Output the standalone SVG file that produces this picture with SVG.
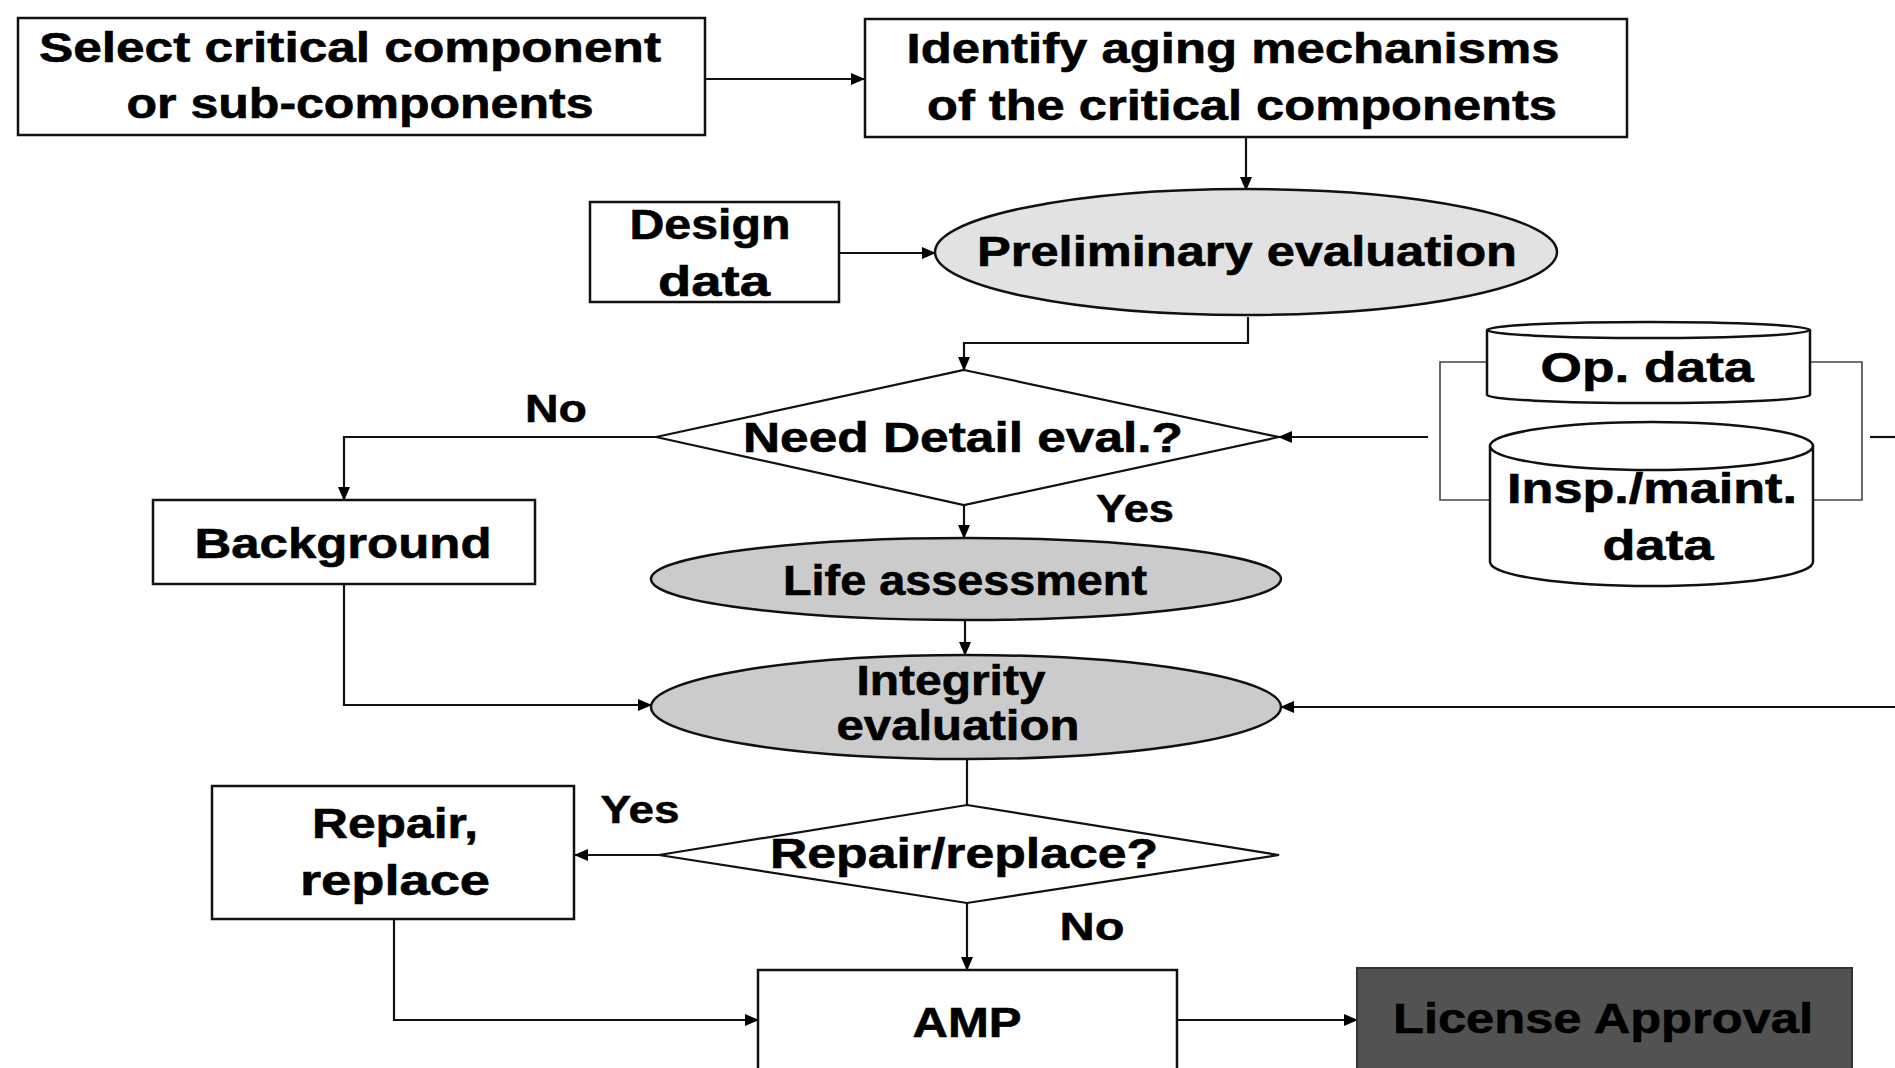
<svg xmlns="http://www.w3.org/2000/svg" width="1895" height="1068" viewBox="0 0 1895 1068">
<defs>
<marker id="arr" markerWidth="14" markerHeight="12" refX="13" refY="6" orient="auto" markerUnits="userSpaceOnUse">
<path d="M0,0 L14,6 L0,12 Z" fill="#000"/>
</marker>
<style>
.box{fill:#fff;stroke:#111;stroke-width:2.5}
.ell{stroke:#111;stroke-width:2.5}
.light{fill:#e2e2e2}
.mid{fill:#cbcbcb}
.dark{fill:#525252;stroke:#333;stroke-width:2}
.dia{fill:#fff;stroke:#111;stroke-width:2.2}
.cyl{fill:#fff;stroke:#111;stroke-width:2.5}
.con{fill:none;stroke:#111;stroke-width:2.2}
.br{fill:none;stroke:#444;stroke-width:1.6}
.t{font-family:"Liberation Sans",Arial,sans-serif;font-weight:bold;font-size:42px;fill:#000;stroke:#000;stroke-width:0.6;text-anchor:middle}
.lbl{font-family:"Liberation Sans",Arial,sans-serif;font-weight:bold;font-size:39px;fill:#000;stroke:#000;stroke-width:0.5;text-anchor:middle}
</style>
</defs>
<rect width="1895" height="1068" fill="#fff"/>

<g id="connectors">
<path class="con" d="M705,79 H864" marker-end="url(#arr)"/>
<path class="con" d="M1246,137 V190" marker-end="url(#arr)"/>
<path class="con" d="M839,253 H935" marker-end="url(#arr)"/>
<path class="con" d="M1248,317 V343 H964 V370" marker-end="url(#arr)"/>
<path class="con" d="M656,437 H344 V500" marker-end="url(#arr)"/>
<path class="con" d="M964,505 V538" marker-end="url(#arr)"/>
<path class="con" d="M965,620 V655" marker-end="url(#arr)"/>
<path class="con" d="M344,584 V705 H651" marker-end="url(#arr)"/>
<path class="con" d="M1428,437 H1279" marker-end="url(#arr)"/>
<path class="con" d="M1870,437 H1895"/>
<path class="con" d="M1895,707 H1281" marker-end="url(#arr)"/>
<path class="con" d="M967,758 V805"/>
<path class="con" d="M659,855 H575" marker-end="url(#arr)"/>
<path class="con" d="M967,903 V970" marker-end="url(#arr)"/>
<path class="con" d="M394,919 V1020 H758" marker-end="url(#arr)"/>
<path class="con" d="M1177,1020 H1357" marker-end="url(#arr)"/>
<path class="br" d="M1487,362 H1440 V500 H1490"/>
<path class="br" d="M1810,362 H1862 V500 H1813"/>
</g>

<g id="select">
<rect class="box" x="18" y="18" width="687" height="117"/>
<text class="t" x="350" y="62" textLength="622" lengthAdjust="spacingAndGlyphs">Select critical component</text>
<text class="t" x="360" y="118" textLength="467" lengthAdjust="spacingAndGlyphs">or sub-components</text>
</g>

<g id="identify">
<rect class="box" x="865" y="19" width="762" height="118"/>
<text class="t" x="1233" y="63" textLength="653" lengthAdjust="spacingAndGlyphs">Identify aging mechanisms</text>
<text class="t" x="1242" y="120" textLength="630" lengthAdjust="spacingAndGlyphs">of the critical components</text>
</g>

<g id="design">
<rect class="box" x="590" y="202" width="249" height="100"/>
<text class="t" x="710" y="239" textLength="161" lengthAdjust="spacingAndGlyphs">Design</text>
<text class="t" x="714" y="296" textLength="112" lengthAdjust="spacingAndGlyphs">data</text>
</g>

<g id="preliminary">
<ellipse class="ell light" cx="1246" cy="252" rx="311" ry="63"/>
<text class="t" x="1247" y="266" textLength="540" lengthAdjust="spacingAndGlyphs">Preliminary evaluation</text>
</g>

<g id="need-detail">
<polygon class="dia" points="964,370 1279,437 964,505 656,437"/>
<text class="t" x="963" y="452" textLength="440" lengthAdjust="spacingAndGlyphs">Need Detail eval.?</text>
<text class="lbl" x="556" y="422" textLength="62" lengthAdjust="spacingAndGlyphs">No</text>
<text class="lbl" x="1135" y="522" textLength="78" lengthAdjust="spacingAndGlyphs">Yes</text>
</g>

<g id="op-data">
<path class="cyl" d="M1487,330 A161.5,8 0 0 1 1810,330 V395 A161.5,8 0 0 1 1487,395 Z"/>
<path class="cyl" fill="none" d="M1487,330 A161.5,8 0 0 0 1810,330"/>
<text class="t" x="1647" y="382" textLength="213" lengthAdjust="spacingAndGlyphs">Op. data</text>
</g>

<g id="insp-data">
<path class="cyl" d="M1490,446 A161.5,24 0 0 1 1813,446 V562 A161.5,24 0 0 1 1490,562 Z"/>
<path class="cyl" fill="none" d="M1490,446 A161.5,24 0 0 0 1813,446"/>
<text class="t" x="1652" y="503" textLength="290" lengthAdjust="spacingAndGlyphs">Insp./maint.</text>
<text class="t" x="1658" y="560" textLength="111" lengthAdjust="spacingAndGlyphs">data</text>
</g>

<g id="background">
<rect class="box" x="153" y="500" width="382" height="84"/>
<text class="t" x="343" y="558" textLength="297" lengthAdjust="spacingAndGlyphs">Background</text>
</g>

<g id="life">
<ellipse class="ell mid" cx="966" cy="579" rx="315" ry="41"/>
<text class="t" x="965" y="595" textLength="364" lengthAdjust="spacingAndGlyphs">Life assessment</text>
</g>

<g id="integrity">
<ellipse class="ell mid" cx="966" cy="707" rx="315" ry="52"/>
<text class="t" x="951" y="695" textLength="189" lengthAdjust="spacingAndGlyphs">Integrity</text>
<text class="t" x="958" y="740" textLength="243" lengthAdjust="spacingAndGlyphs">evaluation</text>
</g>

<g id="repair-q">
<polygon class="dia" points="967,805 1279,855 967,903 659,855"/>
<text class="t" x="964" y="868" textLength="388" lengthAdjust="spacingAndGlyphs">Repair/replace?</text>
<text class="lbl" x="640" y="823" textLength="79" lengthAdjust="spacingAndGlyphs">Yes</text>
<text class="lbl" x="1092" y="940" textLength="65" lengthAdjust="spacingAndGlyphs">No</text>
</g>

<g id="repair">
<rect class="box" x="212" y="786" width="362" height="133"/>
<text class="t" x="395" y="838" textLength="166" lengthAdjust="spacingAndGlyphs">Repair,</text>
<text class="t" x="395" y="895" textLength="190" lengthAdjust="spacingAndGlyphs">replace</text>
</g>

<g id="amp">
<rect class="box" x="758" y="970" width="419" height="110"/>
<text class="t" x="967" y="1037" textLength="109" lengthAdjust="spacingAndGlyphs">AMP</text>
</g>

<g id="license">
<rect class="dark" x="1357" y="968" width="495" height="112"/>
<text class="t" x="1603" y="1033" textLength="420" lengthAdjust="spacingAndGlyphs">License Approval</text>
</g>
</svg>
